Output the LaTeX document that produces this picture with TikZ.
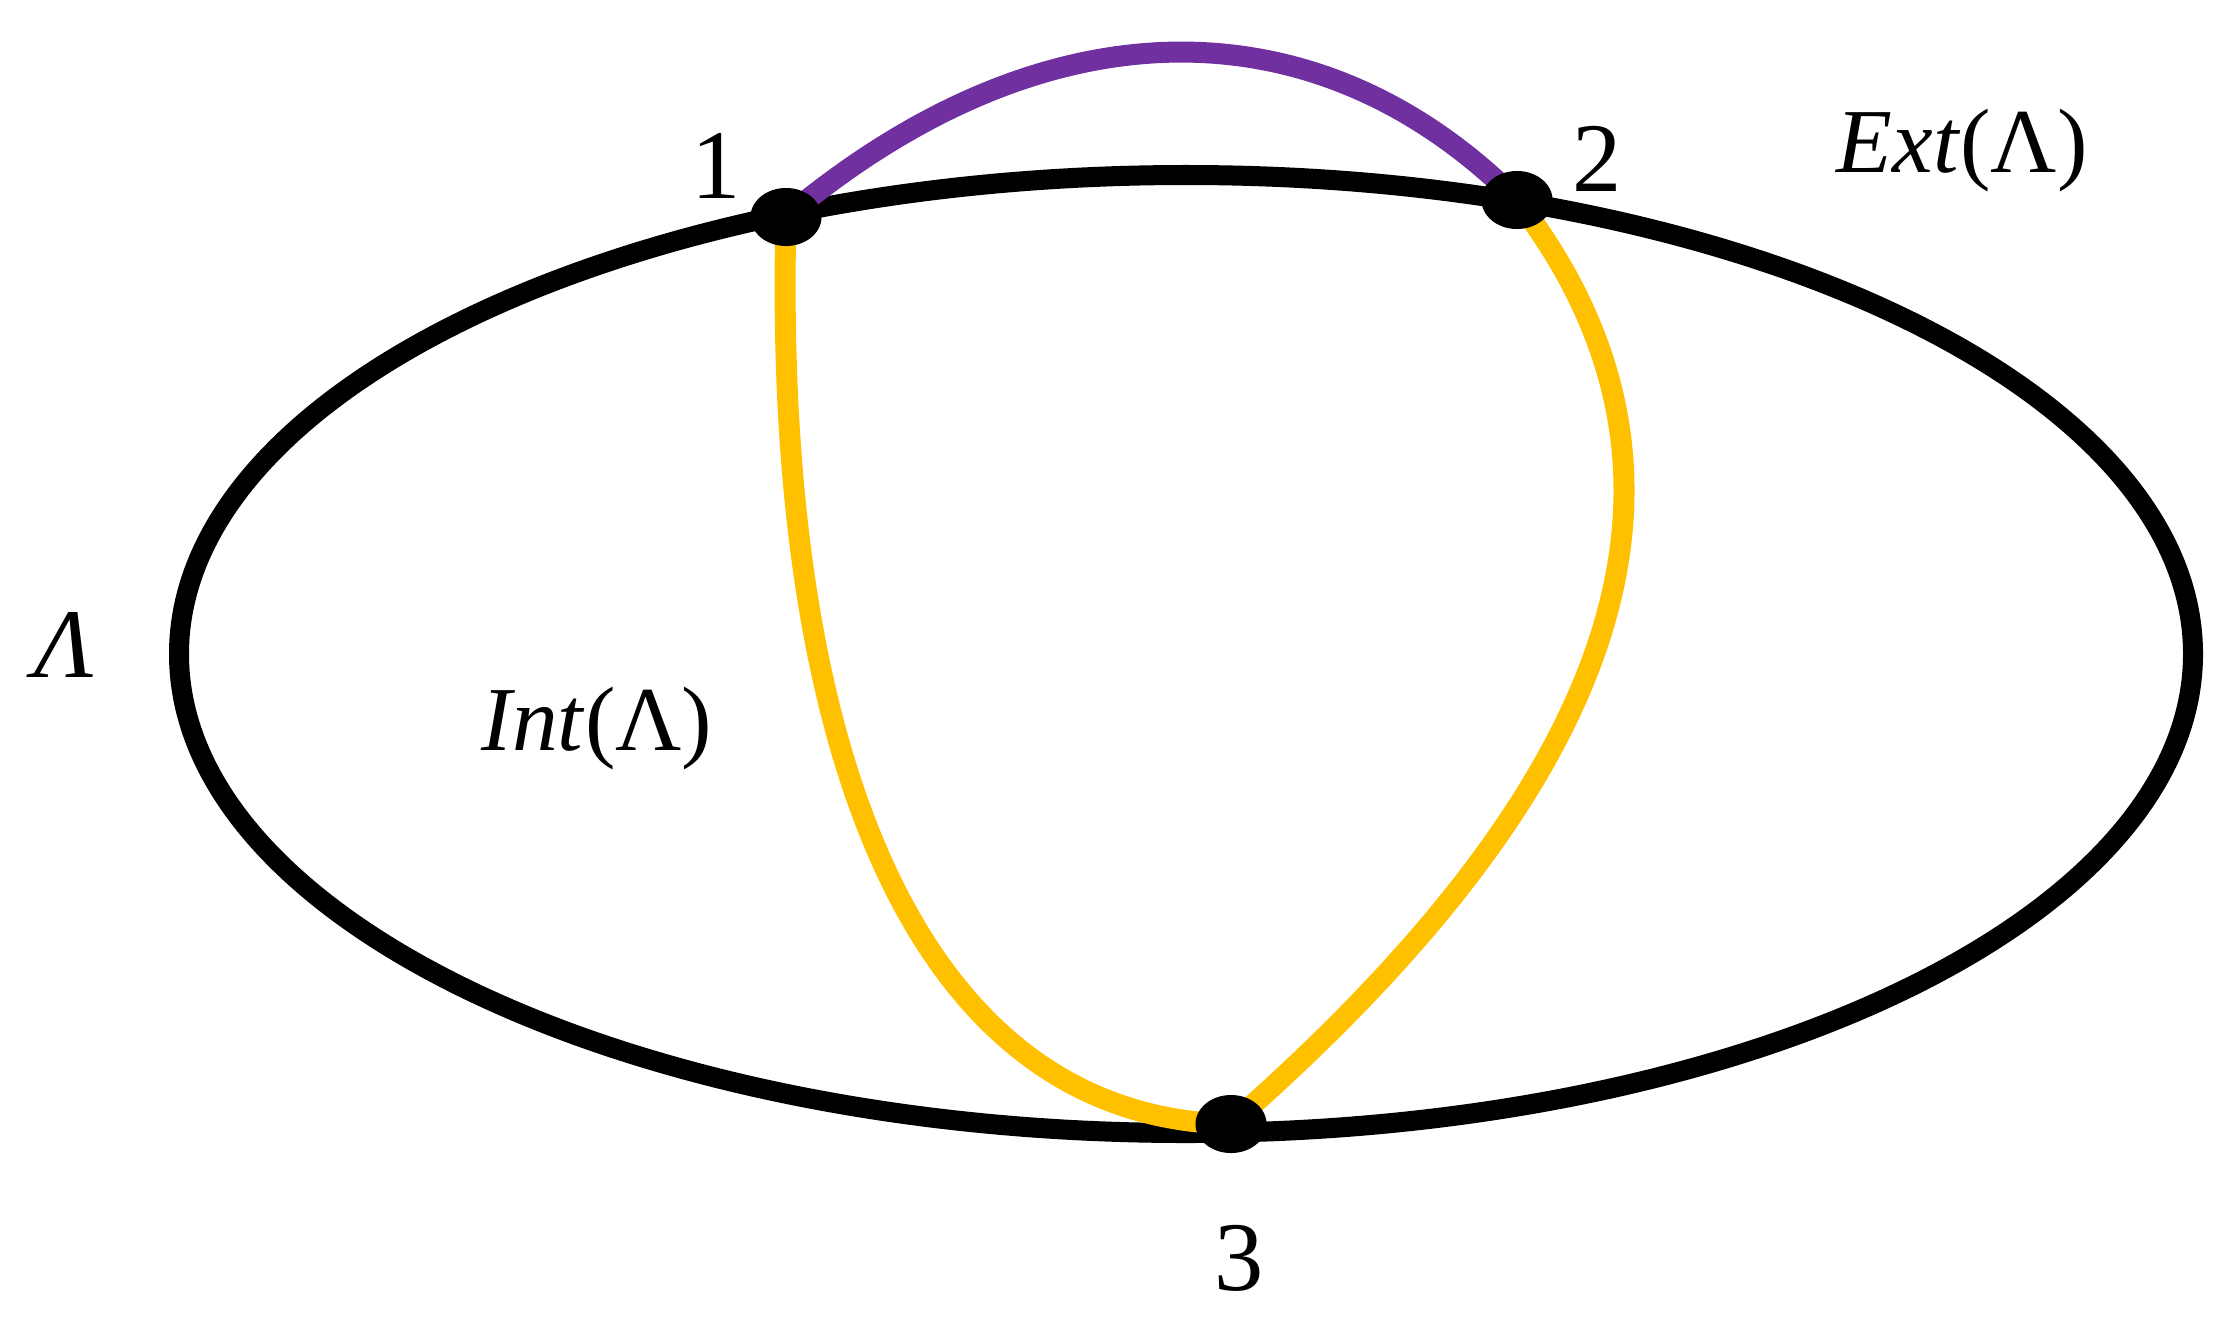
\documentclass[tikz,border=0pt]{standalone}
\usepackage{fontspec}
\setmainfont{Liberation Serif}
\usetikzlibrary{shapes.geometric,backgrounds}
\definecolor{lpurple}{HTML}{7030A0}
\definecolor{lgold}{HTML}{FFC000}

\begin{document}
\begin{tikzpicture}[x=0.01cm,y=-0.01cm,
      dot/.style={ellipse,fill=black,inner sep=0pt,minimum width=0.71cm,minimum height=0.58cm},
      loopline/.style={line width=0.2cm},
      edge/.style={line width=0.21cm},
      lbl/.style={font=\fontsize{28}{34}\selectfont,inner sep=0pt,anchor=base},
      region/.style={lbl,font=\fontsize{26}{32}\selectfont}]
    \useasboundingbox (0,0) rectangle (2240,1324);
    % marked points on the loop
    \node[dot] (n1) at (786,217) {};
    \node[dot] (n2) at (1517,200) {};
    \node[dot] (n3) at (1231,1124) {};
    \begin{scope}[on background layer]
      \draw[loopline] (1186,654) ellipse [x radius=1007,y radius=479];
      \draw[edge,draw=lpurple] (n1.center) .. controls (1045,0) and (1317,0) .. (n2.center);
      \draw[edge,draw=lgold] (n1.center) .. controls (772,760) and (920,1118) .. (n3.center);
      \draw[edge,draw=lgold] (n2.center) .. controls (1740,490) and (1600,800) .. (n3.center);
    \end{scope}
    % labels
    \node[lbl] (l1) at (716,198) {1};
    \node[lbl] (l2) at (1597,191) {2};
    \node[lbl] (l3) at (1239,1290) {3};
    \node[region] (ext) at (1962,172) {\textit{Ext}(Λ)};
    \node[region] (int) at (597,750) {\textit{Int}(Λ)};
    \node[lbl] (lam) at (64,677) {\textit{Λ}};
  \end{tikzpicture}
\end{document}
